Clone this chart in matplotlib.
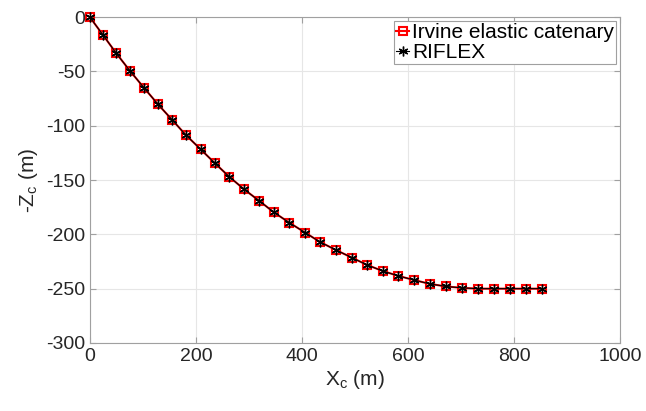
import matplotlib.pyplot as plt

plt.rcParams['font.family'] = ['Liberation Sans', 'DejaVu Sans']
plt.rcParams['mathtext.fontset'] = 'custom'
plt.rcParams['mathtext.rm'] = 'Liberation Sans'
plt.rcParams['mathtext.it'] = 'Liberation Sans'
plt.rcParams['axes.unicode_minus'] = False

# Catenary shape, x and -z in metres
x_irvine = [0, 25, 50, 76, 102, 128, 155, 181, 209, 236, 263, 291, 319, 347, 376, 406,
            434, 464, 494, 522, 552, 582, 611, 641, 672, 702, 732, 763, 793, 823, 853]
z_irvine = [0, -16.6, -33.4, -49.7, -65, -80, -94.5, -108.5, -121.7, -134.6, -147, -158.6,
            -169, -179.7, -189.2, -198.4, -207, -214.4, -221.4, -228, -233.7, -238.3, -242,
            -245.6, -248, -249.3, -250, -250, -250, -250, -250]
x_riflex = list(x_irvine)
z_riflex = list(z_irvine)

fig = plt.figure(figsize=(6.46, 4.11), dpi=100)
ax = fig.add_axes([0.139, 0.1655, 0.821, 0.793])

ax.plot(x_irvine, z_irvine, color='red', lw=1.5, marker='s', ms=5.5, mfc='none',
        mec='red', mew=1.5, label='Irvine elastic catenary', clip_on=False, zorder=3)
ax.plot(x_riflex, z_riflex, color='black', lw=0.8, marker=(6, 2, 0), ms=7,
        mec='black', mew=1.0, label='RIFLEX', clip_on=False, zorder=4)

ax.set_xlim(0, 1000)
ax.set_ylim(-300, 0)
ax.set_xticks([0, 200, 400, 600, 800, 1000])
ax.set_yticks([0, -50, -100, -150, -200, -250, -300])
ax.grid(True, color='#e6e6e6', lw=0.8)
ax.set_axisbelow(True)
for s in ax.spines.values():
    s.set_color('#a0a0a0')
ax.tick_params(direction='in', top=True, right=True, labelsize=14, colors='#a0a0a0',
               labelcolor='#262626', length=4)

ax.set_xlabel(r'X$_\mathrm{c}$ (m)', fontsize=15, color='#262626', labelpad=2)
ax.set_ylabel(r'-Z$_\mathrm{c}$ (m)', fontsize=15, color='#262626', labelpad=4)

leg = ax.legend(loc='upper right', fontsize=15, handlelength=0.6, handletextpad=0.15,
                borderpad=0.1, labelspacing=0.05, borderaxespad=0.2, fancybox=False,
                framealpha=1)
leg.get_frame().set_edgecolor('#a0a0a0')
leg.get_frame().set_linewidth(0.8)

fig.savefig('out.png', dpi=100)
